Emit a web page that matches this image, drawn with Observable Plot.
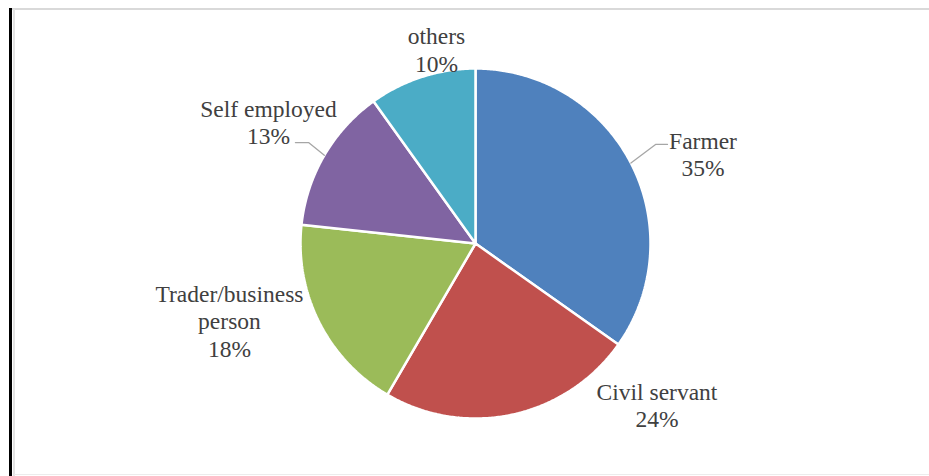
<!DOCTYPE html>
<html>
<head>
<meta charset="utf-8">
<script src="https://cdn.jsdelivr.net/npm/d3@7"></script>
<script src="https://cdn.jsdelivr.net/npm/@observablehq/plot@0.6"></script>
<style>
  html, body { margin: 0; padding: 0; background: #fff; }
  #wrap { position: relative; width: 929px; height: 476px; overflow: hidden; }
  #wrap svg { position: absolute; left: 0; top: 0; }
  .fr { position: absolute; }
</style>
</head>
<body>
<div id="wrap">
  <div class="fr" style="left:12px;top:8px;width:917px;height:2px;background:#d9d9d9"></div>
  <div class="fr" style="left:13px;top:9px;width:2px;height:467px;background:#e3e3e3"></div>
  <div class="fr" style="left:14px;top:474px;width:915px;height:1px;background:#ececec"></div>
  <div class="fr" style="left:9px;top:8px;width:3px;height:468px;background:#000"></div>
</div>
<script>
// ---- data ----
const categories = ["Farmer", "Civil servant", "Trader/business person", "Self employed", "others"];
const values = [34.8, 23.6, 18.3, 13.4, 9.9];          // share of respondents (%)
const labelNames = ["Farmer", "Civil servant", "Trader/business\nperson", "Self employed", "others"];
const colors = ["#4f81bd", "#c0504d", "#9bbb59", "#8064a2", "#4bacc6"];

// ---- layout (in pie-radius units, centre at 0,0, y up) ----
const labelX = [1.3, 1.037, -1.406, -1.183, -0.223];
const labelY = [0.512, -0.92, -0.44, 0.697, 1.109];
const leaders = [
  {cat: "Farmer", pts: [[1.029, 0.566], [1.097, 0.566]]},
  {cat: "Self employed", pts: [[-0.954, 0.577], [-1.029, 0.577]]}
];

const W = 929, H = 476, R = 175, CX = 475, CY = 243;
const total = d3.sum(values);

const arcs = d3.pie().sort(null).startAngle(0).endAngle(2 * Math.PI)(values);
const slicePts = [];
arcs.forEach((a, i) => {
  slicePts.push({cat: categories[i], x: 0, y: 0});
  const n = Math.max(2, Math.ceil((a.endAngle - a.startAngle) / (Math.PI / 360)));
  for (let k = 0; k <= n; k++) {
    const t = a.startAngle + (a.endAngle - a.startAngle) * k / n;
    slicePts.push({cat: categories[i], x: Math.sin(t), y: Math.cos(t)});
  }
});

const leaderPts = [];
leaders.forEach(l => {
  const i = categories.indexOf(l.cat);
  const mid = (arcs[i].startAngle + arcs[i].endAngle) / 2;
  leaderPts.push({cat: l.cat, x: Math.sin(mid), y: Math.cos(mid)});
  l.pts.forEach(p => leaderPts.push({cat: l.cat, x: p[0], y: p[1]}));
});

const labels = categories.map((c, i) => ({
  cat: c,
  text: labelNames[i] + "\n" + Math.round(values[i] / total * 100) + "%",
  x: labelX[i], y: labelY[i]
}));

const chart = Plot.plot({
  width: W, height: H,
  margin: 0,
  x: {domain: [-CX / R, (W - CX) / R], axis: null},
  y: {domain: [(CY - H) / R, CY / R], axis: null},
  color: {domain: categories, range: colors},
  style: {background: "transparent"},
  marks: [
    Plot.line(slicePts, {x: "x", y: "y", z: "cat", fill: "cat", stroke: "white", strokeWidth: 2.5, curve: "linear-closed", strokeLinejoin: "miter"}),
    Plot.line(leaderPts, {x: "x", y: "y", z: "cat", stroke: "#a6a6a6", strokeWidth: 1.3}),
    Plot.text(labels, {x: "x", y: "y", text: "text", fill: "#404040", fontSize: 23.5, fontFamily: "Liberation Serif", lineHeight: 1.17, lineAnchor: "middle", textAnchor: "middle"})
  ]
});
document.getElementById("wrap").insertBefore(chart, document.getElementById("wrap").firstChild);
</script>
</body>
</html>
